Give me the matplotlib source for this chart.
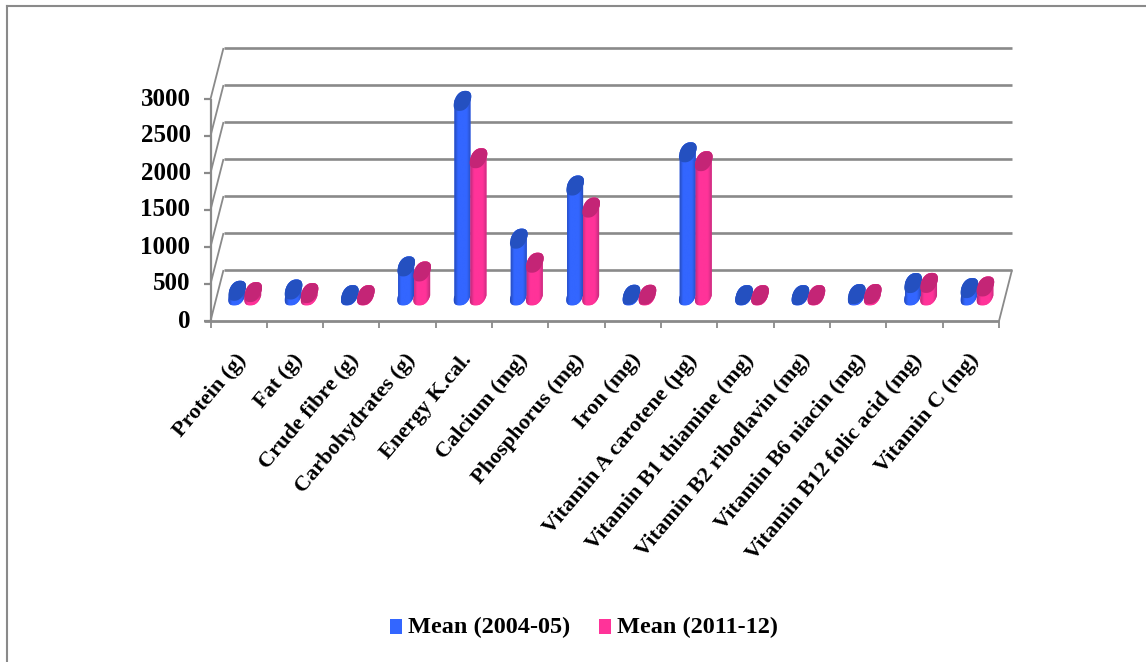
import numpy as np
import matplotlib
matplotlib.use('Agg')
import matplotlib.pyplot as plt
from matplotlib.colors import LinearSegmentedColormap
from matplotlib.patches import Polygon, Rectangle
from matplotlib.lines import Line2D

categories = ['Protein (g)', 'Fat (g)', 'Crude fibre (g)', 'Carbohydrates (g)', 'Energy K.cal.',
              'Calcium (mg)', 'Phosphorus (mg)', 'Iron (mg)', 'Vitamin A carotene (µg)',
              'Vitamin B1 thiamine (mg)', 'Vitamin B2 riboflavin (mg)', 'Vitamin B6 niacin (mg)',
              'Vitamin B12 folic acid (mg)', 'Vitamin C (mg)']
mean_2004 = [64, 81, 5, 393, 2630, 768, 1486, 10, 1935, 5, 5, 19, 168, 100]
mean_2011 = [46, 33, 5, 325, 1855, 443, 1188, 10, 1815, 5, 5, 20, 170, 122]
y_ticks = [0, 500, 1000, 1500, 2000, 2500, 3000]

W, H = 1146, 662
GRID = '#8a8a8a'
BLUE = {'edge': '#2448b4', 'mid': '#3366ff', 'cap': '#2450c0'}
PINK = {'edge': '#b82a78', 'mid': '#ff3399', 'cap': '#c42576'}

# plot box of the front plane, in pixels
x0, x1, y0, y1 = 210.5, 999.0, 321.0, 99.0
depth_px = (13.0, 51.0)

plt.rcParams['font.family'] = ['Liberation Serif', 'DejaVu Sans']
plt.rcParams['font.weight'] = 'bold'

fig = plt.figure(figsize=(W / 100, H / 100), dpi=100)
ax = fig.add_axes([x0 / W, 1 - y0 / H, (x1 - x0) / W, (y0 - y1) / H])
ax.set_xlim(0, len(categories))
ax.set_ylim(0, 3000)
ax.axis('off')

px_x = len(categories) / (x1 - x0)   # data units per pixel
px_y = 3000 / (y0 - y1)
dx, dy = depth_px[0] * px_x, depth_px[1] * px_y


def line(xs, ys, lw=2.0, color=GRID, z=1):
    ax.add_line(Line2D(xs, ys, color=color, lw=lw, clip_on=False, zorder=z, solid_capstyle='butt'))


# walls and floor
n = len(categories)
for v in y_ticks:
    line([0 + dx, n + dx], [v + dy, v + dy], lw=1.9)
    line([0, dx], [v, v + dy], lw=1.3)
    line([-7 * px_x, 0], [v, v], lw=1.6)
line([0, 0], [0, 3000], lw=1.6)
line([-7 * px_x, n], [0, 0], lw=2.0)
line([n, n + dx], [0, dy], lw=1.3)
for i in range(n + 1):
    line([i, i], [0, -7 * px_y], lw=1.3)


def rim(t):
    # slightly squared-off tilted ellipse for the cylinder ends
    r, k, h = 8.0 * px_x, 3.0 * px_x, 10 * px_y
    c = np.sign(np.cos(t)) * np.abs(np.cos(t)) ** 0.85
    s = np.sign(np.sin(t)) * np.abs(np.sin(t)) ** 0.85
    return r * c + k * s, h * s


def cylinder(xc, value, col):
    # body centred half way along the floor depth
    cx = xc + dx / 2
    base = dy / 2
    top = base + value
    ex, ey = rim(np.linspace(0, 2 * np.pi, 120))
    hw = np.max(ex)
    # body outline: lower half of base rim, upper half of top rim
    lx, ly = rim(np.linspace(np.pi, 2 * np.pi, 60))
    ux, uy = rim(np.linspace(0, np.pi, 60))
    bx = np.concatenate([lx, ux])
    by = np.concatenate([base + ly, top + uy])
    body = Polygon(np.column_stack([cx + bx, by]), closed=True, fc=col['mid'], ec='none', zorder=3, clip_on=False)
    ax.add_patch(body)
    # horizontal shading across the body
    cmap = LinearSegmentedColormap.from_list('c', [(0, col['edge']), (0.22, col['mid']), (0.72, col['mid']), (1, col['edge'])])
    im = ax.imshow(np.linspace(0, 1, 64)[None, :], extent=[cx - hw, cx + hw, base - 10 * px_y, top + 10 * px_y],
                   cmap=cmap, aspect='auto', zorder=3, clip_on=True)
    im.set_clip_path(body)
    ax.add_patch(Polygon(np.column_stack([cx + ex, top + ey]), closed=True, fc=col['cap'], ec='none',
                         zorder=4, clip_on=False))


off = 8.0 * px_x
for i in range(n):
    cylinder(i + 0.5 - off, mean_2004[i], BLUE)
    cylinder(i + 0.5 + off, mean_2011[i], PINK)
ax.set_xlim(0, n)
ax.set_ylim(0, 3000)

# tick labels
for v in y_ticks:
    ax.text(-20 * px_x, v, str(v), ha='right', va='center', fontsize=18, fontweight='bold')
for i, name in enumerate(categories):
    ax.text(i + 0.5 - 3 * px_x, -29 * px_y, name, ha='right', va='top', rotation=50, rotation_mode='anchor',
            fontsize=16, fontweight='bold')

# legend
for sx, col, label in [(390, BLUE, 'Mean (2004-05)'), (599, PINK, 'Mean (2011-12)')]:
    fig.add_artist(Rectangle((sx / W, 1 - 634 / H), 12 / W, 15 / H, transform=fig.transFigure,
                             fc=col['mid'], ec='none'))
    fig.text((sx + 18) / W, 1 - 627 / H, label, ha='left', va='center', fontsize=17.5, fontweight='bold')

# outer frame, top and left sides only
for xs, ys in [([7, 7], [662, 6]), ([7, 1146], [6, 6])]:
    fig.add_artist(Line2D([a / W for a in xs], [1 - b / H for b in ys], transform=fig.transFigure,
                          color='#8a8a8a', lw=1.5))

fig.savefig('out.png', dpi=100)
